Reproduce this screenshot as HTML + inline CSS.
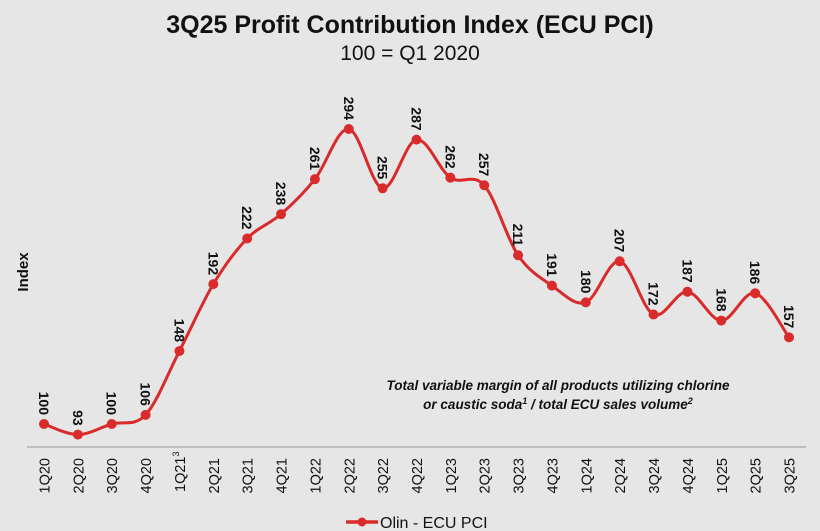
<!DOCTYPE html>
<html><head><meta charset="utf-8"><style>
body{margin:0;background:#e6e6e6;font-family:"Liberation Sans",sans-serif;}
svg{display:block}
</style></head><body>
<svg id="chart" width="820" height="531" viewBox="0 0 820 531" xmlns="http://www.w3.org/2000/svg">
<rect width="820" height="531" fill="#e6e6e6"/>
<text x="410" y="33" text-anchor="middle" font-size="25" font-weight="bold" fill="#111">3Q25 Profit Contribution Index (ECU PCI)</text>
<text x="410" y="60" text-anchor="middle" font-size="21" fill="#111">100 = Q1 2020</text>
<text transform="translate(28,272) rotate(-90)" text-anchor="middle" font-size="15" font-weight="bold" fill="#111">Index</text>
<line x1="27" y1="447" x2="806" y2="447" stroke="#b0b0b0" stroke-width="1.5"/>
<text x="558" y="390" text-anchor="middle" font-size="13.5" font-weight="bold" font-style="italic" fill="#111">Total variable margin of all products utilizing chlorine</text>
<text x="558" y="409" text-anchor="middle" font-size="13.5" font-weight="bold" font-style="italic" fill="#111">or caustic soda<tspan font-size="9" dy="-5">1</tspan><tspan dy="5"> / total ECU sales volume</tspan><tspan font-size="9" dy="-5">2</tspan></text>
<g id="marks"></g>
<g>
<line x1="346" y1="522" x2="378" y2="522" stroke="#d92b2b" stroke-width="3.5"/>
<circle cx="362" cy="522" r="4.5" fill="#d92b2b"/>
<text x="380" y="528" font-size="16" fill="#111">Olin - ECU PCI</text>
</g>
</svg>
<script>
const categories=["1Q20","2Q20","3Q20","4Q20","1Q21","2Q21","3Q21","4Q21","1Q22","2Q22","3Q22","4Q22","1Q23","2Q23","3Q23","4Q23","1Q24","2Q24","3Q24","4Q24","1Q25","2Q25","3Q25"];
const values=[100,93,100,106,148,192,222,238,261,294,255,287,262,257,211,191,180,207,172,187,168,186,157];
const NS="http://www.w3.org/2000/svg";
const g=document.getElementById('marks');
const x0=44,x1=789;
function xs(i){return x0+(x1-x0)*i/(categories.length-1);}
function ys(v){return 424-(v-100)*1.5206;}
const P=values.map((v,i)=>[xs(i),ys(v)]);
let d="M"+P[0][0]+","+P[0][1];
for(let i=0;i<P.length-1;i++){
 const p0=P[Math.max(0,i-1)],p1=P[i],p2=P[i+1],p3=P[Math.min(P.length-1,i+2)];
 const t=0.5/3;
 const c1=[p1[0]+(p2[0]-p0[0])*t,p1[1]+(p2[1]-p0[1])*t];
 const c2=[p2[0]-(p3[0]-p1[0])*t,p2[1]-(p3[1]-p1[1])*t];
 d+=" C"+c1+" "+c2+" "+p2;
}
const path=document.createElementNS(NS,'path');
path.setAttribute('d',d);path.setAttribute('fill','none');path.setAttribute('stroke','#d92b2b');path.setAttribute('stroke-width','3');


g.appendChild(path);
categories.forEach((c,i)=>{
 const x=xs(i),y=ys(values[i]);
 const dot=document.createElementNS(NS,'circle');
 dot.setAttribute('cx',x);dot.setAttribute('cy',y);dot.setAttribute('r','5');dot.setAttribute('fill','#d92b2b');
 
 
 g.appendChild(dot);
 const vl=document.createElementNS(NS,'text');
 vl.setAttribute('transform','translate('+(x-5)+','+(y-9)+') rotate(90)');
 vl.setAttribute('text-anchor','end');vl.setAttribute('font-size','14');vl.setAttribute('font-weight','bold');vl.setAttribute('fill','#111');
 vl.textContent=values[i];
 
 
 g.appendChild(vl);
 const tl=document.createElementNS(NS,'text');
 tl.setAttribute('transform','translate('+(x+5.5)+',458) rotate(-90)');
 tl.setAttribute('text-anchor','end');tl.setAttribute('font-size','14.5');tl.setAttribute('fill','#111');
 tl.textContent=c;
 if(c==="1Q21"){const s=document.createElementNS(NS,'tspan');s.setAttribute('font-size','9');s.setAttribute('dy','-6');s.textContent='3';tl.setAttribute('text-anchor','start');tl.setAttribute('transform','translate('+(x+5.5)+',492) rotate(-90)');tl.appendChild(s);}
 
 
 g.appendChild(tl);
});
</script>
</body></html>
